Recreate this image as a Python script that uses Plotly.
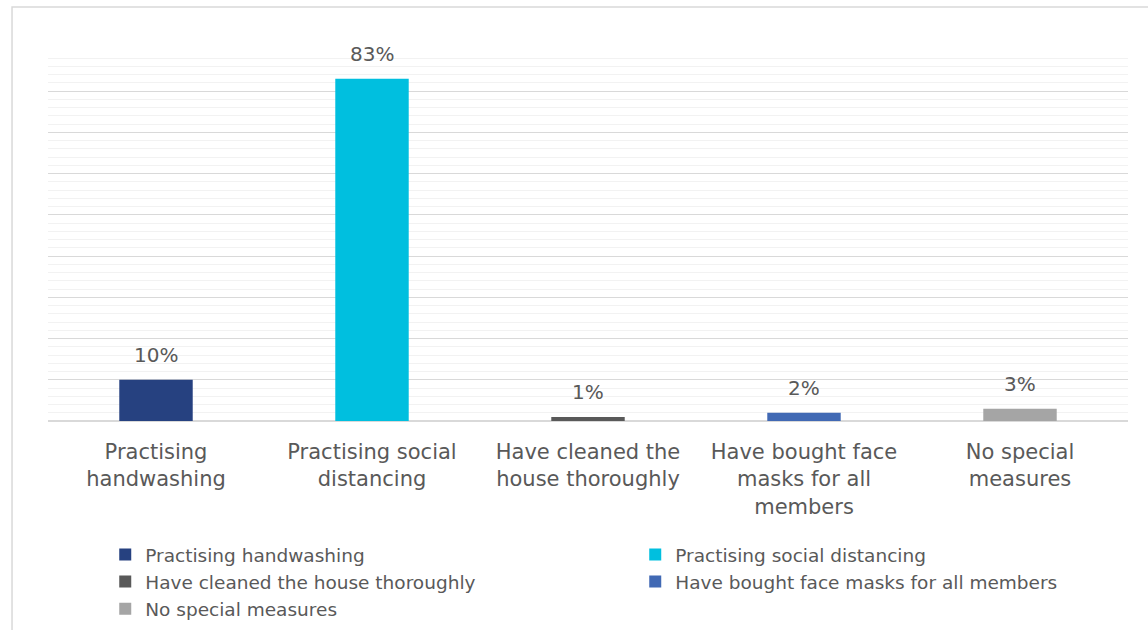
import plotly.graph_objects as go

categories = ["Practising handwashing", "Practising social distancing",
              "Have cleaned the house thoroughly", "Have bought face masks for all members",
              "No special measures"]
tick_labels = ["Practising<br>handwashing", "Practising social<br>distancing",
               "Have cleaned the<br>house thoroughly", "Have bought face<br>masks for all<br>members",
               "No special<br>measures"]
values = [10, 83, 1, 2, 3]
colors = ["#264180", "#00BFDF", "#595959", "#4169B4", "#A5A5A5"]

FONT = "DejaVu Sans"
TXT = "#595959"

fig = go.Figure()
for cat, v, c in zip(categories, values, colors):
    fig.add_trace(go.Bar(x=[cat], y=[v], name=cat, marker=dict(color=c, line=dict(width=0)),
                         width=0.34, hoverinfo="skip"))
    fig.add_annotation(x=cat, y=v, text=f"{v}%", showarrow=False, yanchor="bottom",
                       yshift=11, font=dict(family=FONT, size=20, color=TXT))

fig.update_layout(
    width=1148, height=630,
    margin=dict(l=48, r=20, t=50, b=209, autoexpand=False),
    paper_bgcolor="white", plot_bgcolor="white",
    barmode="overlay",
    showlegend=True,
    legend=dict(orientation="h", x=0.053, xanchor="left", y=-0.31, yanchor="top",
                entrywidth=485, entrywidthmode="pixels", traceorder="normal",
                bgcolor="rgba(0,0,0,0)",
                font=dict(family=FONT, size=18.5, color=TXT), itemwidth=30),
    font=dict(family=FONT, color=TXT),
)
fig.update_xaxes(tickmode="array", tickvals=categories, ticktext=tick_labels,
                 tickfont=dict(family=FONT, size=21, color=TXT), showgrid=False,
                 showline=False, ticks="", ticklabelstandoff=16, fixedrange=True)
fig.update_yaxes(range=[0, 90], dtick=10, showticklabels=False, showgrid=True,
                 gridcolor="#D9D9D9", gridwidth=1, zeroline=True, zerolinecolor="#D9D9D9",
                 zerolinewidth=1.5,
                 minor=dict(dtick=2, showgrid=True, gridcolor="#F2F2F2", gridwidth=1),
                 fixedrange=True)
fig.add_shape(type="rect", xref="paper", yref="paper", x0=-0.0333, x1=1.2, y0=-1.0, y1=1.116,
              line=dict(color="#D9D9D9", width=1.5), layer="below")
fig.write_html("out.html")
